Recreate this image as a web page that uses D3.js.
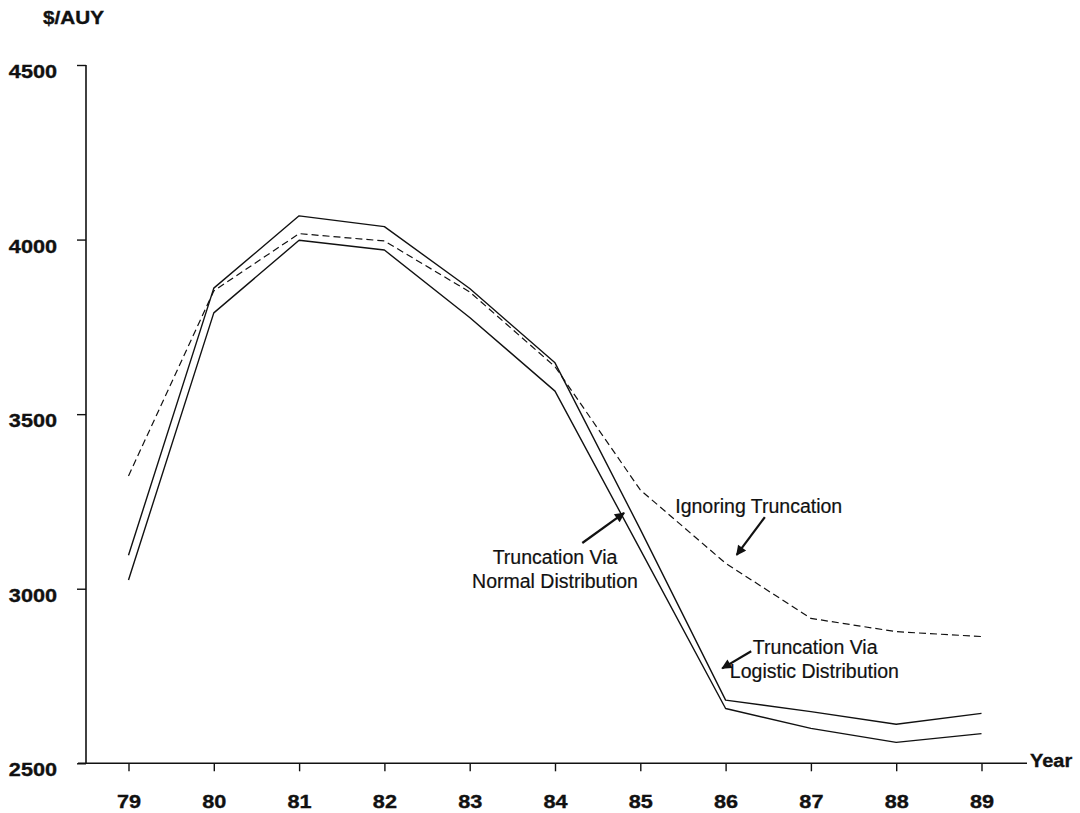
<!DOCTYPE html>
<html>
<head>
<meta charset="utf-8">
<script src="https://cdn.jsdelivr.net/npm/d3@7"></script>
<style>
  html, body { margin: 0; padding: 0; background: #fff; }
  svg { display: block; }
  text { font-family: "Liberation Sans", Arial, Helvetica, sans-serif; fill: #111; }
</style>
</head>
<body>
<svg id="chart" width="1080" height="813"></svg>
<script>
// ---- data ----
const years = [79, 80, 81, 82, 83, 84, 85, 86, 87, 88, 89];
const logisticValues = [3096, 3861, 4068, 4037, 3860, 3647, 3170, 2681, 2648, 2612, 2643];
const normalValues   = [3025, 3790, 3998, 3970, 3777, 3566, 3112, 2657, 2600, 2560, 2585];
const ignoringValues = [3323, 3853, 4017, 3996, 3850, 3636, 3283, 3073, 2915, 2877, 2863];
const yTicks = [2500, 3000, 3500, 4000, 4500];
const xTickLabels = ["79", "80", "81", "82", "83", "84", "85", "86", "87", "88", "89"];
const yAxisTitle = "$/AUY";
const xAxisTitle = "Year";

// annotations (data coordinates)
const annotations = [
  { lines: ["Ignoring Truncation"], x: 85.41, y: 3217, anchor: "start", from: [86.46, 3205], to: [86.13, 3097] },
  { lines: ["Truncation Via", "Normal Distribution"], x: 84.0, y: 3071, anchor: "middle", from: [84.32, 3131], to: [84.81, 3217] },
  { lines: ["Truncation Via", "Logistic Distribution"], x: 86.05, y: 2813, anchor: "start", indent: 23, from: [86.30, 2821], to: [85.96, 2772] }
];

// ---- layout ----
const svg = d3.select("#chart");
const x = d3.scaleLinear().domain([79, 89]).range([128.5, 981.5]);
const y = d3.scaleLinear().domain([2500, 4500]).range([763.3, 65]);
const axisX = 86;

const ink = "#111";

// arrow marker
svg.append("defs").append("marker")
  .attr("id", "arrow").attr("viewBox", "0 0 10 10")
  .attr("refX", 9).attr("refY", 5)
  .attr("markerWidth", 12).attr("markerHeight", 10)
  .attr("markerUnits", "userSpaceOnUse")
  .attr("orient", "auto")
  .append("path").attr("d", "M0,0 L10,5 L0,10 Z").attr("fill", ink);

const boldStyle = sel => sel
  .attr("font-size", 19).attr("font-weight", "bold")
  .attr("font-family", "'Liberation Sans', Arial, sans-serif")
  .attr("fill", ink).attr("stroke", ink).attr("stroke-width", 0.35);

// y axis
const yAxis = d3.axisLeft(y).tickValues(yTicks).tickSize(9).tickSizeOuter(0).tickPadding(0).tickFormat(d3.format("d"));
const gy = svg.append("g").attr("transform", `translate(${axisX},0)`).call(yAxis);
gy.select(".domain").remove();
gy.selectAll(".tick line").attr("stroke", ink).attr("stroke-width", 1.4);
gy.selectAll(".tick text")
  .attr("x", null).attr("dy", null)
  .attr("text-anchor", "end")
  .attr("transform", "translate(-29,12.5) scale(1.14,1)")
  .call(boldStyle);

// x axis
const xAxis = d3.axisBottom(x).tickValues(years).tickSize(8).tickSizeOuter(0)
  .tickFormat((d, i) => xTickLabels[i]);
const gx = svg.append("g").attr("transform", `translate(0,${y(2500)})`).call(xAxis);
gx.select(".domain").remove();
gx.selectAll(".tick line").attr("stroke", ink).attr("stroke-width", 1.4);
gx.selectAll(".tick text")
  .attr("y", null).attr("dy", null)
  .attr("text-anchor", "middle")
  .attr("transform", "translate(0,45) scale(1.14,1)")
  .call(boldStyle);

// axis lines
svg.append("line")
  .attr("x1", axisX).attr("x2", axisX)
  .attr("y1", y(4500)).attr("y2", y(2500))
  .attr("stroke", ink).attr("stroke-width", 1.6);
svg.append("line")
  .attr("x1", axisX - 8).attr("x2", 1027)
  .attr("y1", y(2500)).attr("y2", y(2500))
  .attr("stroke", ink).attr("stroke-width", 1.6);

// axis titles
svg.append("text").text(yAxisTitle)
  .attr("transform", "translate(43,24) scale(1.12,1)")
  .call(boldStyle).attr("font-size", 18.5);
svg.append("text").text(xAxisTitle)
  .attr("transform", "translate(1030,767) scale(1.08,1)")
  .call(boldStyle).attr("font-size", 18.5);

// lines
const line = d3.line().x((d, i) => x(years[i])).y(d => y(d));
svg.append("path").datum(logisticValues).attr("d", line)
  .attr("fill", "none").attr("stroke", ink).attr("stroke-width", 1.4).attr("stroke-linejoin", "round");
svg.append("path").datum(normalValues).attr("d", line)
  .attr("fill", "none").attr("stroke", ink).attr("stroke-width", 1.4).attr("stroke-linejoin", "round");
svg.append("path").datum(ignoringValues).attr("d", line)
  .attr("fill", "none").attr("stroke", ink).attr("stroke-width", 1.2).attr("stroke-dasharray", "7,4");

// annotations
annotations.forEach(a => {
  const t = svg.append("text")
    .attr("x", x(a.x)).attr("y", y(a.y))
    .attr("text-anchor", a.anchor)
    .attr("font-size", 19.5)
    .attr("stroke", ink).attr("stroke-width", 0.2);
  a.lines.forEach((l, i) => {
    t.append("tspan")
      .attr("x", x(a.x) + (i === 0 && a.indent ? a.indent : 0))
      .attr("dy", i === 0 ? 0 : 24)
      .text(l);
  });
  svg.append("line")
    .attr("x1", x(a.from[0])).attr("y1", y(a.from[1]))
    .attr("x2", x(a.to[0])).attr("y2", y(a.to[1]))
    .attr("stroke", ink).attr("stroke-width", 2.2)
    .attr("marker-end", "url(#arrow)");
});
</script>
</body>
</html>
